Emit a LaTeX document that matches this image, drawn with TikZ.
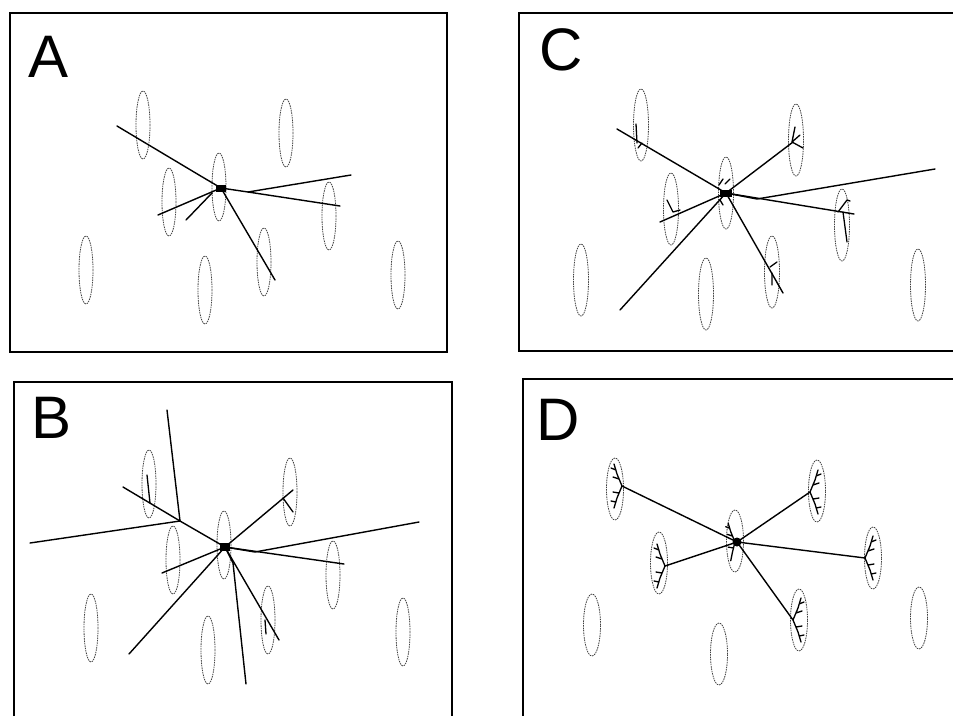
\documentclass[tikz,border=0pt]{standalone}
\usepackage{fontspec}
\setmainfont{Liberation Sans}
\tikzset{
  frame/.style={line width=1.2pt, black},
  cell/.style={draw=black!75, line width=0.8pt, dash pattern=on 1.5pt off 0.9pt},
  dend/.style={line width=1.4pt, black, line cap=round, line join=round},
  spine/.style={line width=1.3pt, black, line cap=round, line join=round},
  lab/.style={font=\fontsize{60}{60}\selectfont, anchor=base west, inner sep=0pt},
}
% branched spine tree rooted at a point; #3 = +1 branches left, -1 branches right
\newcommand{\dtree}[3]{%
  \begin{scope}[shift={(#1,#2)}, xscale=#3]
    \draw[spine] (0,0) -- (-5,-12) -- (-8,-22) (-3,-7) -- (-9,-9) (-6,-16) -- (-11,-18)
                 (0,0) -- (-5,12) -- (-8,22) (-3,7) -- (-9,6) (-6,16) -- (-11,15);
  \end{scope}}
\begin{document}
\begin{tikzpicture}[x=1pt, y=-1pt]
\useasboundingbox (0,0) rectangle (953,716);
\fill[white] (0,0) rectangle (953,716);

% ---------------- panel A ----------------
\draw[frame] (10,13) rectangle (447,352);
\node[lab] (labA) at (28,77) {A};
\foreach \x/\y in {143/125, 286/133, 219/187, 169/202, 329/216, 86/270, 264/262, 205/290, 398/275}
  \draw[cell] (\x,\y) ellipse [x radius=7pt, y radius=34pt];
\coordinate (sA) at (221,188);
\draw[dend] (117,126) -- (199,175) -- (sA);
\draw[dend] (sA) -- (248,192) -- (340,206);
\draw[dend] (248,192) -- (351,175);
\draw[dend] (sA) -- (158,215);
\draw[dend] (212,193) -- (186,220);
\draw[dend] (sA) -- (275,280);
\fill[black] (216,184.5) rectangle (226,191.5);

% ---------------- panel C ----------------
\draw[frame] (953,13) -- (519,13) -- (519,351) -- (953,351);
\node[lab] (labC) at (539,70) {C};
\foreach \x/\y in {641/125, 796/140, 726/193, 671/209, 842/225, 581/280, 772/272, 706/294, 918/285}
  \draw[cell] (\x,\y) ellipse [x radius=7.5pt, y radius=36pt];
\coordinate (sC) at (726,193);
\draw[dend] (617,129) -- (sC);
\draw[dend] (sC) -- (793,142);
\draw[dend] (sC) -- (757,199) -- (935,169);
\draw[dend] (sC) -- (854,214);
\draw[dend] (620,310) -- (sC);
\draw[dend] (660,222) -- (sC);
\draw[dend] (sC) -- (783,293);
% spines along the C dendrites
\draw[spine] (636,124) -- (637,143) (638,148) -- (642,143);
\draw[spine] (792,142) -- (795,127) (792,142) -- (800,135) (792,142) -- (803,148);
\draw[spine] (667,200) -- (673,212) -- (680,210);
\draw[spine] (838,212) -- (847,200) -- (850,201) (843,212) -- (847,242);
\draw[spine] (770,267) -- (777,262) (772,273) -- (772,285);
\draw[spine] (719,185) -- (723,179) (725,184) -- (730,179) (720,200) -- (723,205);
\fill[black] (720,189.5) rectangle (732,196.5);

% ---------------- panel B ----------------
\draw[frame] (14,716) -- (14,382) -- (452,382) -- (452,716);
\node[lab] (labB) at (31,438) {B};
\foreach \x/\y in {149/484, 290/492, 224/545, 173/560, 333/575, 91/628, 268/620, 208/650, 403/632}
  \draw[cell] (\x,\y) ellipse [x radius=7pt, y radius=34pt];
\coordinate (sB) at (225,547);
\coordinate (jB) at (180,521);
\draw[dend] (123,487) -- (jB) -- (sB);
\draw[dend] (167,410) -- (jB);
\draw[dend] (30,543) -- (jB);
\draw[dend] (sB) -- (293,490);
\draw[dend] (sB) -- (255,552) -- (419,522);
\draw[dend] (sB) -- (344,564);
\draw[dend] (162,573) -- (sB);
\draw[dend] (129,654) -- (sB);
\draw[dend] (sB) -- (279,640);
\draw[dend] (sB) -- (233,563) -- (246,684);
\draw[spine] (147,475) -- (150,503);
\draw[spine] (283,498) -- (293,512);
\draw[spine] (265,620) -- (266,634);
\fill[black] (220,543) rectangle (230,551);

% ---------------- panel D ----------------
\draw[frame] (953,379) -- (523,379) -- (523,716);
\node[lab] (labD) at (536,440) {D};
\foreach \x/\y in {615/489, 817/491, 735/541, 659/563, 873/558, 592/625, 799/620, 719/654, 919/618}
  \draw[cell] (\x,\y) ellipse [x radius=8.5pt, y radius=31pt];
\coordinate (sD) at (737,542);
\coordinate (t1) at (622,486);
\coordinate (t2) at (810,492);
\coordinate (t4) at (665,566);
\coordinate (t5) at (865,558);
\coordinate (t7) at (793,620);
\draw[dend] (sD) -- (t1);
\draw[dend] (sD) -- (t2);
\draw[dend] (sD) -- (t4);
\draw[dend] (sD) -- (t5);
\draw[dend] (sD) -- (t7);
\dtree{622}{486}{1}
\dtree{810}{492}{-1}
\dtree{665}{566}{1}
\dtree{865}{558}{-1}
\dtree{793}{620}{-1}
\begin{scope}[shift={(735,542)}, scale=0.85]
  \draw[spine] (0,0) -- (-5,-12) -- (-8,-22) (-3,-7) -- (-9,-9) (-6,-16) -- (-11,-18)
               (0,0) -- (-3,12) -- (-5,22) (-2,7) -- (-8,6);
\end{scope}
\fill[black] (sD) circle [radius=4.5pt];
\end{tikzpicture}
\end{document}
